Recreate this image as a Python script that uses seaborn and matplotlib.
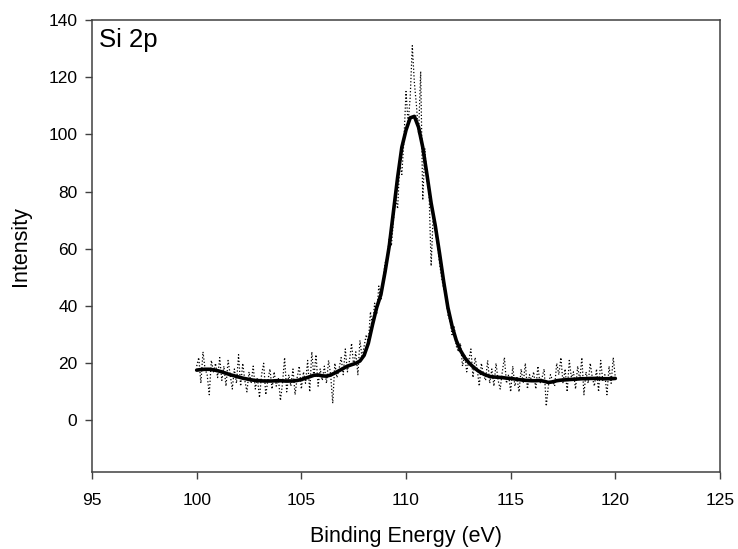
import numpy as np
import pandas as pd
import matplotlib
matplotlib.use("Agg")
import matplotlib.pyplot as plt
import seaborn as sns

# Raw spectrum (0.1 eV steps, 100 -> 120 eV)
raw_energy = [round(100 + 0.1 * i, 1) for i in range(201)]
raw_intensity = [
    19, 22, 13, 24, 18, 16, 9, 21, 17, 20, 15,
    22, 14, 19, 12, 21, 16, 11, 18, 13, 23,
    12, 20, 14, 10, 17, 13, 19, 11, 15, 8,
    16, 20, 9, 14, 18, 11, 17, 12, 15, 7,
    13, 22, 10, 16, 12, 18, 9, 15, 19, 11,
    17, 13, 21, 10, 24, 15, 23, 12, 18, 14,
    19, 13, 21, 16, 6, 20, 15, 18, 22, 16,
    25, 17, 21, 27, 19, 24, 16, 28, 22, 26,
    30, 27, 38, 33, 41, 37, 47, 42, 49, 55,
    57, 64, 61, 70, 78, 74, 90, 86, 98, 115,
    104, 113, 131, 118, 110, 100, 122, 77, 95, 84,
    80, 54, 72, 66, 62, 55, 50, 46, 44, 37,
    35, 30, 33, 26, 24, 27, 19, 23, 17, 21,
    25, 15, 22, 18, 12, 20, 16, 14, 21, 13,
    18, 12, 20, 14, 11, 17, 22, 13, 16, 10,
    19, 12, 15, 10, 18, 13, 20, 11, 16, 14,
    17, 11, 19, 13, 15, 18, 5, 12, 16, 14,
    12, 20, 16, 22, 13, 18, 10, 21, 15, 17,
    11, 19, 14, 22, 9, 17, 13, 20, 15, 12,
    18, 10, 21, 14, 16, 9, 19, 13, 22, 15,
]

# Smoothed fit (0.2 eV steps)
fit_energy = [round(100 + 0.2 * i, 1) for i in range(101)]
fit_intensity = [
    17.6, 17.8, 17.9, 17.9, 17.7, 17.4, 17.0, 16.5, 16.0, 15.6,
    15.2, 14.8, 14.5, 14.2, 14.0, 13.9, 13.8, 13.8, 13.8, 13.9,
    13.9, 13.8, 13.8, 13.8, 14.0, 14.3, 14.8, 15.3, 15.8, 15.9,
    15.6, 15.5, 15.9, 16.6, 17.4, 18.2, 19.0, 19.5, 20.0, 20.8,
    22.8, 27.0, 33.5, 39.5, 44.0, 52.0, 61.0, 73.0, 85.0, 95.5,
    101.5, 105.8, 106.3, 102.5, 95.5, 86.0, 76.0, 68.0, 58.5, 48.5,
    39.5, 33.0, 28.0, 24.5, 22.0, 20.2, 18.8, 17.6, 16.6, 15.9,
    15.4, 15.2, 15.1, 15.0, 14.8, 14.7, 14.5, 14.3, 14.1, 14.0,
    13.9, 13.9, 14.0, 13.7, 13.3, 13.5, 13.9, 14.1, 14.2, 14.3,
    14.4, 14.5, 14.6, 14.6, 14.7, 14.7, 14.7, 14.6, 14.6, 14.6,
    14.7,
]

x_ticks = [95, 100, 105, 110, 115, 120, 125]
y_ticks = [0, 20, 40, 60, 80, 100, 120, 140]

sns.set_style("ticks")
plt.rcParams["font.family"] = ["Liberation Sans", "DejaVu Sans"]
plt.rcParams["text.color"] = "black"
plt.rcParams["axes.labelcolor"] = "black"

raw_df = pd.DataFrame({"E": raw_energy, "I": raw_intensity})
fit_df = pd.DataFrame({"E": fit_energy, "I": fit_intensity})

fig = plt.figure(figsize=(7.38, 5.49), dpi=100)
ax = fig.add_axes([0.1247, 0.1403, 0.8509, 0.8233])

sns.lineplot(data=raw_df, x="E", y="I", ax=ax, color="black",
             linestyle=":", linewidth=0.9, estimator=None, sort=False)
sns.lineplot(data=fit_df, x="E", y="I", ax=ax, color="black",
             linewidth=2.6, estimator=None, sort=False)

ax.set_xlim(95, 125)
ax.set_ylim(-18, 140)
ax.set_xticks(x_ticks)
ax.set_yticks(y_ticks)
ax.tick_params(axis="both", direction="out", length=5, width=1,
               color="#404040", labelsize=12.5, labelcolor="black")
ax.tick_params(axis="x", pad=10)
ax.tick_params(axis="y", pad=5.5)
for s in ax.spines.values():
    s.set_visible(True)
    s.set_color("#404040")
    s.set_linewidth(1.1)

ax.set_xlabel("Binding Energy (eV)", fontsize=15.5, va="center", color="black")
ax.set_ylabel("Intensity", fontsize=15.5, va="center", color="black")
ax.xaxis.set_label_coords(0.5, -0.1438)
ax.yaxis.set_label_coords(-0.1138, 0.5)
ax.text(0.011, 0.940, "Si 2p", transform=ax.transAxes, fontsize=18.5,
        ha="left", va="baseline", color="black")

fig.savefig("out.png", dpi=100)
